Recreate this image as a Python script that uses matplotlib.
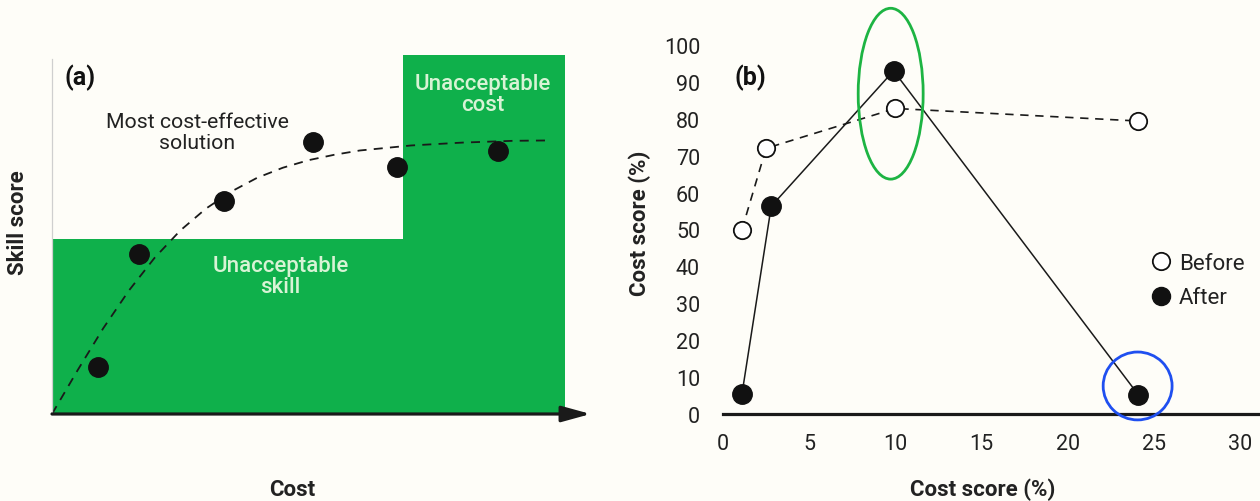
import numpy as np
import matplotlib
matplotlib.use("Agg")
import matplotlib.pyplot as plt
from matplotlib.patches import Ellipse
from matplotlib.lines import Line2D

plt.rcParams['font.family'] = ['Roboto', 'DejaVu Sans']

# ---- panel (a): conceptual skill vs cost ----
cost_pts = [9.0, 17.0, 33.5, 50.9, 67.3, 86.9]
skill_pts = [13.1, 44.6, 59.3, 75.8, 68.8, 73.3]
trend_cost = [0, 5, 10, 15, 20, 25, 30, 35, 40, 45, 50, 55, 60, 70, 80, 90, 97]
trend_skill = [0, 12.2, 23.9, 34.4, 43.5, 51.1, 57.2, 62.0, 65.8, 68.6, 70.7,
               72.2, 73.4, 74.8, 75.6, 76.1, 76.2]
skill_threshold = 48.7
cost_threshold = 68.4

# ---- panel (b): before / after ----
before_x = [1.1, 2.5, 10.0, 24.1]
before_y = [50, 72, 82.8, 79.4]
after_x = [1.1, 2.8, 9.9, 24.1]
after_y = [5.4, 56.3, 93.0, 5.2]
xticks_b = [0, 5, 10, 15, 20, 25, 30]
yticks_b = [0, 10, 20, 30, 40, 50, 60, 70, 80, 90, 100]

W, H = 1260, 502
bg = '#fefdf8'
green = '#0fb04b'
txt_green = '#d8f3d5'

fig = plt.figure(figsize=(W / 100, H / 100), dpi=100, facecolor=bg)

# panel a
axa = fig.add_axes([52 / W, (H - 415) / H, (590.6 - 52) / W, (415 - 56) / H])
axa.set_facecolor('none')
axa.set_xlim(0, 105)
axa.set_ylim(0, 100)
axa.bar(0, skill_threshold, width=100, align='edge', color=green, zorder=1)
axa.bar(cost_threshold, 100, width=100 - cost_threshold, align='edge',
        color=green, zorder=1)
axa.plot(trend_cost, trend_skill, ls=(0, (5, 4)), color='#1a1a1a', lw=1.3,
         zorder=2, clip_on=False)
axa.plot(cost_pts, skill_pts, 'o', color='#111111', ms=14, zorder=3)
axa.annotate('', xy=(105, 0), xytext=(0, 0), annotation_clip=False,
             arrowprops=dict(arrowstyle='-|>,head_length=0.8,head_width=0.22',
                             mutation_scale=22, lw=2.3, color='#1a1a1a',
                             shrinkA=0, shrinkB=0), zorder=4)
for s in ['top', 'right', 'bottom']:
    axa.spines[s].set_visible(False)
axa.spines['left'].set_color('#cfcfcf')
axa.spines['left'].set_linewidth(0.9)
axa.spines['left'].set_bounds(0, 99)
axa.set_xticks([])
axa.set_yticks([])

axa.text(5.5, 94, '(a)', fontsize=18, fontweight='bold', color='#111',
         ha='center', va='center')
axa.text(28.3, 78.5, 'Most cost-effective\nsolution', fontsize=15.3, color='#222',
         ha='center', va='center', linespacing=1.1)
axa.text(84, 89, 'Unacceptable\ncost', fontsize=16, color=txt_green,
         ha='center', va='center', linespacing=1.0, fontweight='medium')
axa.text(44.5, 38.5, 'Unacceptable\nskill', fontsize=16, color=txt_green,
         ha='center', va='center', linespacing=1.0, fontweight='medium')

fig.text(18 / W, 1 - 223 / H, 'Skill score', rotation=90, fontsize=16,
         fontweight='bold', color='#222', ha='center', va='center')
fig.text(292 / W, 1 - 490 / H, 'Cost', fontsize=16, fontweight='bold',
         color='#222', ha='center', va='center')

# panel b
axb = fig.add_axes([723 / W, (H - 415) / H, (W - 723) / W, (415 - 46) / H])
axb.set_facecolor('none')
axb.set_xlim(0, (W - 723) / 17.233)
axb.set_ylim(0, 100)
axb.plot(before_x, before_y, ls=(0, (5, 4)), color='#1a1a1a', lw=1.2, zorder=2)
axb.plot(after_x, after_y, ls='-', color='#1a1a1a', lw=1.1, zorder=2)
axb.plot(before_x, before_y, 'o', ms=12.5, mfc='white', mec='#111',
         mew=1.3, zorder=3, clip_on=False)
axb.plot(after_x, after_y, 'o', ms=14, mfc='#111', mec='#111', zorder=3,
         clip_on=False)
axb.add_patch(Ellipse((9.73, 86.8), 3.77, 46.3, fill=False, ec='#1db443',
                      lw=2.0, clip_on=False, zorder=4))
axb.add_patch(Ellipse((24.06, 7.6), 4.0, 18.4, fill=False, ec='#1f4ff0',
                      lw=2.0, clip_on=False, zorder=4))
for s in ['top', 'right', 'left']:
    axb.spines[s].set_visible(False)
axb.spines['bottom'].set_linewidth(2.3)
axb.spines['bottom'].set_color('#1a1a1a')
axb.set_xticks(xticks_b)
axb.set_yticks(yticks_b)
axb.tick_params(length=0, labelsize=15.5, colors='#222')
axb.tick_params(axis='y', pad=16.5)
axb.tick_params(axis='x', pad=14)

axb.text(1.6, 91.5, '(b)', fontsize=18, fontweight='bold', color='#111',
         ha='center', va='center')

handles = [Line2D([], [], ls='none', marker='o', ms=12.5, mfc='white',
                  mec='#111', mew=1.3),
           Line2D([], [], ls='none', marker='o', ms=13, mfc='#111', mec='#111')]
leg = fig.legend(handles, ['Before', 'After'], loc='upper left',
                 bbox_to_anchor=(1150 / W, 1 - 254 / H), frameon=False,
                 fontsize=16, handlelength=1.0, handletextpad=0.3,
                 labelspacing=0.6, borderpad=0, borderaxespad=0)
for t in leg.get_texts():
    t.set_color('#222')

fig.text(640 / W, 1 - 223 / H, 'Cost score (%)', rotation=90, fontsize=16,
         fontweight='bold', color='#222', ha='center', va='center')
fig.text(983 / W, 1 - 490 / H, 'Cost score (%)', fontsize=16,
         fontweight='bold', color='#222', ha='center', va='center')

fig.savefig('out.png', dpi=100, facecolor=bg)
